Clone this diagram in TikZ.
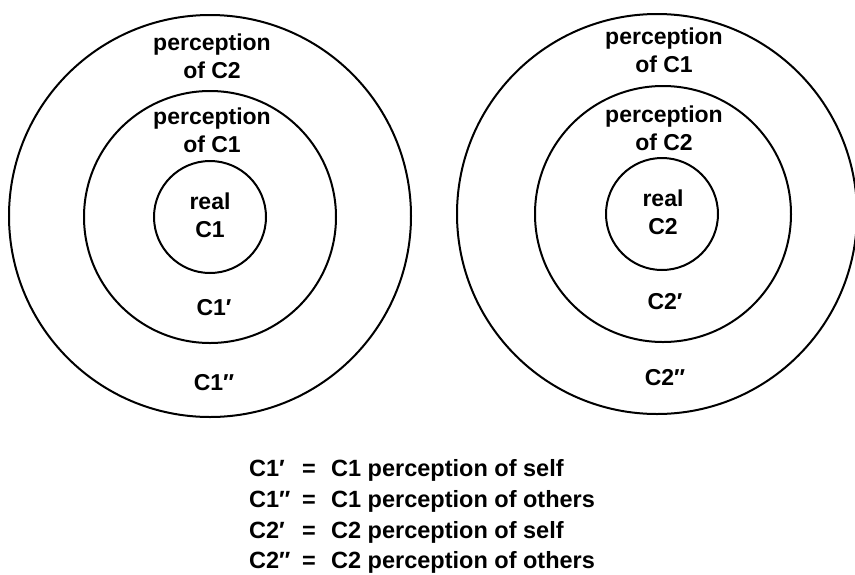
\documentclass[tikz,border=0pt]{standalone}
\usepackage{fontspec}
\setmainfont{Liberation Sans}
\begin{document}
\begin{tikzpicture}[x=1pt,y=-1pt,
  ring/.style={draw=black, line width=2pt, circle, inner sep=0pt},
  lbl/.style={font=\fontsize{23}{28}\selectfont\bfseries, align=center, inner sep=0pt},
  leg/.style={font=\fontsize{23.5}{28}\selectfont\bfseries, inner sep=0pt, anchor=base west}]
\useasboundingbox (0,0) rectangle (855,574);
% left set
\node[ring, minimum size=402pt] (LO) at (210,216) {};
\node[ring, minimum size=252pt] (LM) at (210,217) {};
\node[ring, minimum size=112pt] (LI) at (210,217) {};
\node[lbl] (LOt) at (212,56) {perception\\of C2};
\node[lbl] (LMt) at (212,130) {perception\\of C1};
\node[lbl] (LIt) at (210,215) {real\\C1};
\node[lbl] (LMb) at (214,308) {C1′};
\node[lbl] (LOb) at (214,383) {C1″};
% right set
\node[ring, minimum size=400pt] (RO) at (657,214) {};
\node[ring, minimum size=256pt] (RM) at (663,214) {};
\node[ring, minimum size=112pt] (RI) at (662,214) {};
\node[lbl] (ROt) at (664,50) {perception\\of C1};
\node[lbl] (RMt) at (664,128) {perception\\of C2};
\node[lbl] (RIt) at (663,212) {real\\C2};
\node[lbl] (RMb) at (665,302) {C2′};
\node[lbl] (ROb) at (665,378) {C2″};
% legend
\node[leg] (k1) at (249,476) {C1′};
\node[leg] (e1) at (302,476) {=};
\node[leg] (d1) at (331,476) {C1 perception of self};
\node[leg] (k2) at (249,507) {C1″};
\node[leg] (e2) at (302,507) {=};
\node[leg] (d2) at (331,507) {C1 perception of others};
\node[leg] (k3) at (249,538) {C2′};
\node[leg] (e3) at (302,538) {=};
\node[leg] (d3) at (331,538) {C2 perception of self};
\node[leg] (k4) at (249,568) {C2″};
\node[leg] (e4) at (302,568) {=};
\node[leg] (d4) at (331,568) {C2 perception of others};
\end{tikzpicture}
\end{document}
